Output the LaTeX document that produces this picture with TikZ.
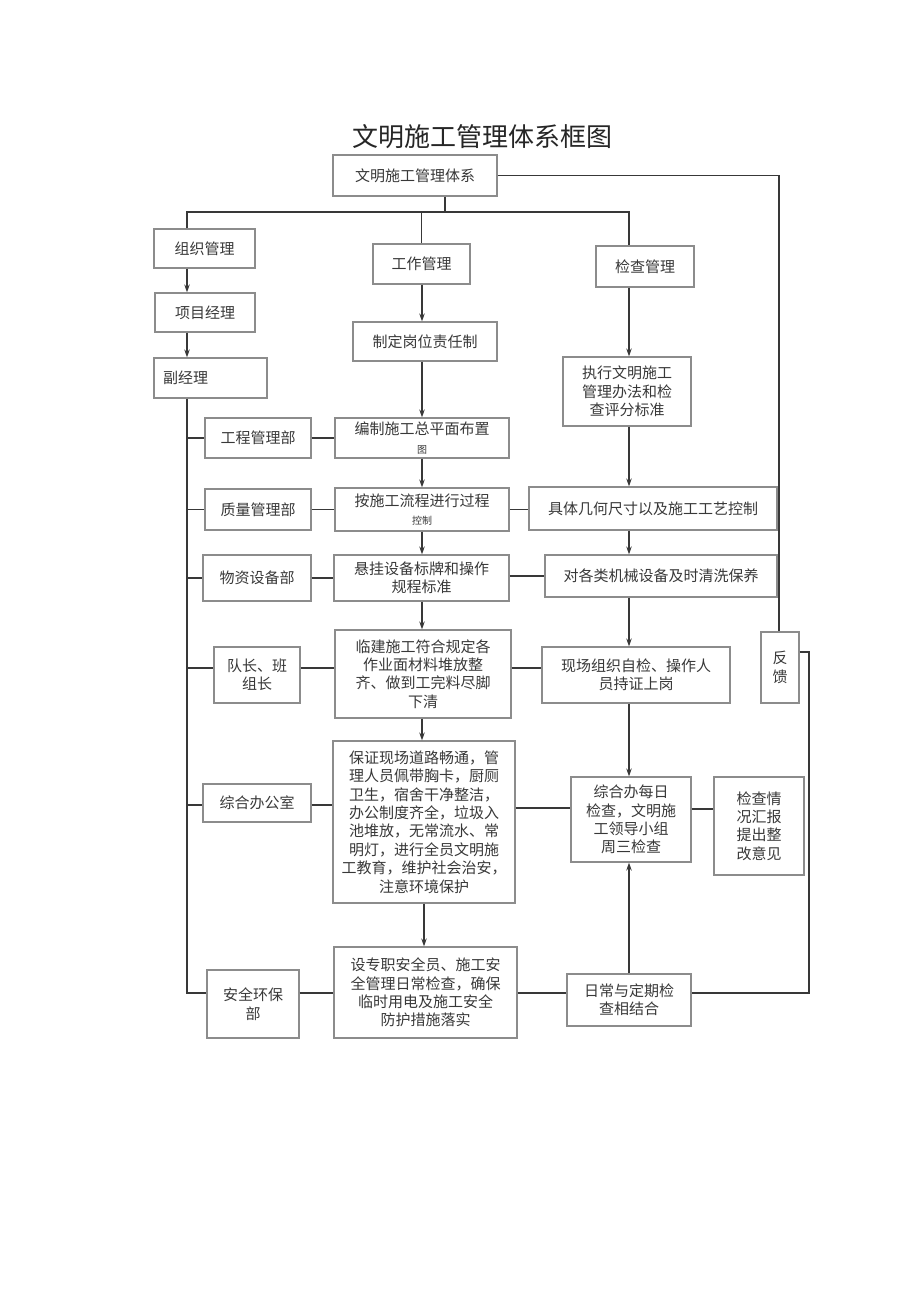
\documentclass[tikz,border=0pt]{standalone}
\usepackage{fontspec}
\newfontfamily\cjk{Noto Sans CJK SC}
\usetikzlibrary{arrows.meta}
\tikzset{
    box/.style={rectangle,draw=black!45,line width=1.2pt,inner sep=1pt,align=center,
        text=black!78,font=\cjk\fontsize{15}{18.4}\selectfont},
    link/.style={-,draw=black!78,line width=1.6pt},
    arr/.style={-{Stealth[length=8pt,width=5.5pt]},draw=black!78,line width=1.6pt}
}
\newcommand{\smallline}[1]{{\fontsize{10}{11}\selectfont #1}}

\begin{document}
\begin{tikzpicture}[x=1pt,y=-1pt]
    \useasboundingbox (0,0) rectangle (920,1301);

    \node[font=\cjk\fontsize{26}{30}\selectfont,text=black!85] (title) at (482,137) {文明施工管理体系框图};

    % top and first level
    \node[box,minimum width=164,minimum height=41] (top)  at (415,175.5) {文明施工管理体系};
    \node[box,minimum width=101,minimum height=39] (zzgl) at (204.5,248.5) {组织管理};
    \node[box,minimum width=97,minimum height=40]  (gzgl) at (421.5,264) {工作管理};
    \node[box,minimum width=98,minimum height=41]  (jcgl) at (645,266.5) {检查管理};

    % left column
    \node[box,minimum width=100,minimum height=39] (xmjl) at (205,312.5) {项目经理};
    \node[box,minimum height=40,text width=95,align=left,inner xsep=9] (fjl) at (210.5,378) {副经理};
    \node[box,minimum width=106,minimum height=40] (gcglb) at (258,438) {工程管理部};
    \node[box,minimum width=106,minimum height=41] (zlglb) at (258,509.5) {质量管理部};
    \node[box,minimum width=108,minimum height=46] (wzsb)  at (257,578) {物资设备部};
    \node[box,minimum width=86,minimum height=56]  (dz)    at (257,675) {队长、班\\组长};
    \node[box,minimum width=108,minimum height=38] (zhbgs) at (257,803) {综合办公室};
    \node[box,minimum width=92,minimum height=68]  (aqhb)  at (253,1004) {安全环保\\部};

    % centre column
    \node[box,minimum width=144,minimum height=39] (zdgw) at (425,341.5) {制定岗位责任制};
    \node[box,minimum width=174,minimum height=40] (bzsg) at (422,438) {编制施工总平面布置\\\smallline{图}};
    \node[box,minimum width=174,minimum height=43] (asg)  at (422,509.5) {按施工流程进行过程\\\smallline{控制}};
    \node[box,minimum width=175,minimum height=46] (xgsb) at (421.5,578) {悬挂设备标牌和操作\\规程标准};
    \node[box,minimum width=176,minimum height=88] (ljsg) at (423,674) {临建施工符合规定各\\作业面材料堆放整\\齐、做到工完料尽脚\\下清};
    \node[box,minimum width=182,minimum height=162] (bzxc) at (424,822) {保证现场道路畅通，管\\理人员佩带胸卡，厨厕\\卫生，宿舍干净整洁，\\办公制度齐全，垃圾入\\池堆放，无常流水、常\\明灯，进行全员文明施\\工教育，维护社会治安，\\注意环境保护};
    \node[box,minimum width=183,minimum height=91] (szz)  at (425.5,992.5) {设专职安全员、施工安\\全管理日常检查，确保\\临时用电及施工安全\\防护措施落实};

    % right column
    \node[box,minimum width=128,minimum height=69]  (zxwm)  at (627,391.5) {执行文明施工\\管理办法和检\\查评分标准};
    \node[box,minimum width=248,minimum height=43]  (jtjh)  at (653,508.5) {具体几何尺寸以及施工工艺控制};
    \node[box,minimum width=232,minimum height=42]  (dgl)   at (661,576) {对各类机械设备及时清洗保养};
    \node[box,minimum width=188,minimum height=56]  (xczz)  at (636,675) {现场组织自检、操作人\\员持证上岗};
    \node[box,minimum width=120,minimum height=85]  (zhbmr) at (631,819.5) {综合办每日\\检查，文明施\\工领导小组\\周三检查};
    \node[box,minimum width=124,minimum height=52]  (rcyd)  at (629,1000) {日常与定期检\\查相结合};
    \node[box,minimum width=90,minimum height=98]   (jcqk)  at (759,826) {检查情\\况汇报\\提出整\\改意见};
    \node[box,minimum width=38,minimum height=71]   (fk)    at (780,667.5) {反\\馈};

    % junctions
    \coordinate (spine) at (187,212);
    \coordinate (hub)   at (445,212);
    \coordinate (ccol)  at (422,212);
    \coordinate (rcol)  at (629,212);
    \coordinate (fbtop) at (779,175.5);
    \coordinate (fbr)   at (809,652);
    \coordinate (row4)  at (187,668);
    \coordinate (row5)  at (187,805);
    \coordinate (row5r) at (629,808);
    \coordinate (bot)   at (187,993);

    % branches from the top
    \draw[link] (top.south -| hub) -- (hub);
    \draw[link] (zzgl.north -| spine) -- (spine) -- (rcol) -- (jcgl.north -| rcol);
    \draw[link] (gzgl.north) -- (gzgl.north |- spine);

    % left spine
    \draw[arr]  (zzgl.south -| spine) -- (xmjl.north -| spine);
    \draw[arr]  (xmjl.south -| spine) -- (fjl.north -| spine);
    \draw[link] (fjl.south -| spine) -- (bot) -- (aqhb.west |- bot);

    % rows
    \draw[link] (spine |- gcglb) -- (gcglb.west);
    \draw[link] (gcglb.east) -- (bzsg.west);
    \draw[link] (spine |- zlglb) -- (zlglb.west);
    \draw[link] (zlglb.east) -- (asg.west);
    \draw[link] (asg.east) -- (jtjh.west |- asg.east);
    \draw[link] (spine |- wzsb) -- (wzsb.west);
    \draw[link] (wzsb.east) -- (xgsb.west);
    \draw[link] (xgsb.east |- dgl) -- (dgl.west);
    \draw[link] (row4) -- (dz.west |- row4);
    \draw[link] (dz.east |- row4) -- (ljsg.west |- row4);
    \draw[link] (ljsg.east |- row4) -- (xczz.west |- row4);
    \draw[link] (row5) -- (zhbgs.west |- row5);
    \draw[link] (zhbgs.east |- row5) -- (bzxc.west |- row5);
    \draw[link] (bzxc.east |- row5r) -- (zhbmr.west |- row5r);
    \draw[link] (zhbmr.east |- 0,809) -- (jcqk.west |- 0,809);
    \draw[link] (aqhb.east |- bot) -- (szz.west |- bot);
    \draw[link] (szz.east |- bot) -- (rcyd.west |- bot);

    % centre column arrows
    \foreach \a/\b in {gzgl/zdgw,zdgw/bzsg,bzsg/asg,asg/xgsb,xgsb/ljsg,ljsg/bzxc}
        \draw[arr] (\a.south -| ccol) -- (\b.north -| ccol);
    \draw[arr] (bzxc.south) -- (szz.north -| bzxc.south);

    % right column arrows
    \foreach \a/\b in {jcgl/zxwm,zxwm/jtjh,jtjh/dgl,dgl/xczz,xczz/zhbmr}
        \draw[arr] (\a.south -| rcol) -- (\b.north -| rcol);
    \draw[arr] (rcyd.north -| rcol) -- (zhbmr.south -| rcol);

    % feedback loop
    \draw[link] (top.east) -- (fbtop) -- (fk.north -| fbtop);
    \draw[link] (fk.east |- fbr) -- (fbr) -- (fbr |- bot) -- (rcyd.east |- bot);

\end{tikzpicture}
\end{document}
